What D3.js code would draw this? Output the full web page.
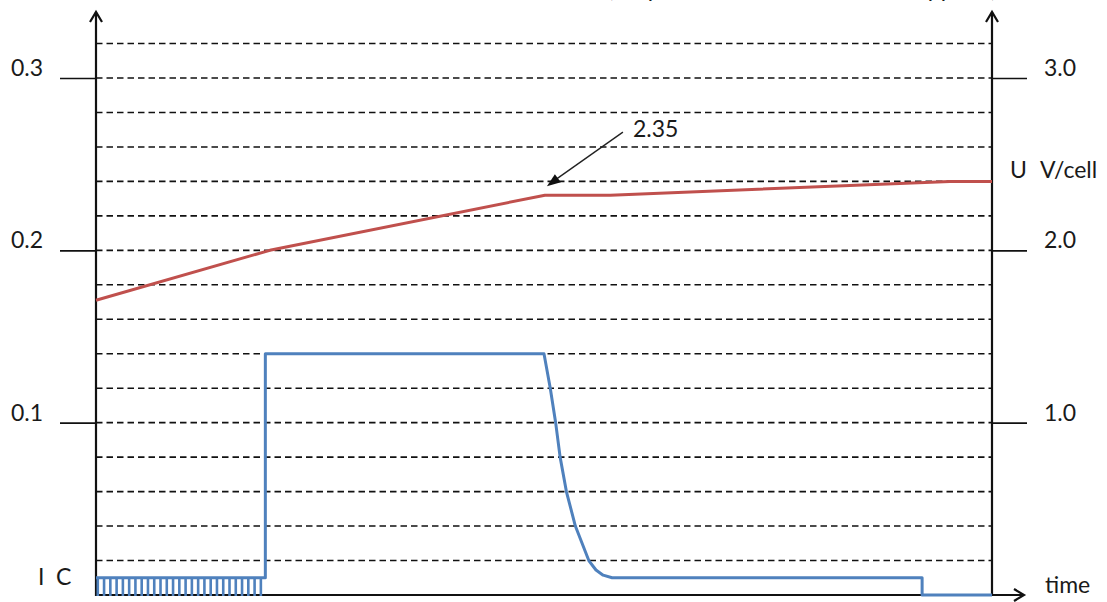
<!DOCTYPE html>
<html>
<head>
<meta charset="utf-8">
<script src="https://cdn.jsdelivr.net/npm/d3@7"></script>
<style>
  body { margin: 0; background: #fff; }
  svg text { font-family: Lato, 'Open Sans', sans-serif; fill: #1a1a1a; }
</style>
</head>
<body>
<div id="chart"></div>
<script>
// voltage curve (right axis, V/cell)
const voltageTime = [0, 19.4, 50.1, 57.4, 95.3, 100];
const voltage = [1.71, 2.0, 2.32, 2.32, 2.40, 2.40];

// current curve (left axis, C)
const currentTime = [0, 18.9, 18.9, 50.0, 50.7, 51.3, 51.8, 52.5, 53.5, 55.0, 55.8, 56.6, 57.6, 92.2, 92.2, 100];
const current = [0.01, 0.01, 0.14, 0.14, 0.12, 0.10, 0.08, 0.06, 0.04, 0.02, 0.0145, 0.0115, 0.01, 0.01, 0, 0];

// the short pulses before the main charge step
const pulseTime = [0.2, 0.9, 1.6, 2.3, 3.0, 3.7, 4.4, 5.1, 5.8, 6.5, 7.2, 7.9, 8.6, 9.3,
  10.0, 10.7, 11.4, 12.1, 12.8, 13.5, 14.2, 14.9, 15.6, 16.3, 17.0, 17.7, 18.4];

const gridVoltage = [0.2, 0.4, 0.6, 0.8, 1.0, 1.2, 1.4, 1.6, 1.8, 2.0, 2.2, 2.4, 2.6, 2.8, 3.0, 3.2];
const leftTicks = [0.1, 0.2, 0.3];
const rightTicks = [1.0, 2.0, 3.0];
const markerValue = 2.35;

const width = 1107;
const height = 602;
const x0 = 96, x1 = 992, yBase = 595, yTop = 12;
const fontSize = '23px';

const svg = d3.select('#chart').append('svg')
  .attr('width', width)
  .attr('height', height);

const x = d3.scaleLinear().domain([0, 100]).range([x0, x1]);
const yV = d3.scaleLinear().domain([0, 3]).range([yBase, 78]);
const yI = d3.scaleLinear().domain([0, 0.3]).range([yBase, 78]);

// heading, cut off by the top edge as in the original
svg.append('text')
  .attr('x', 997)
  .attr('y', -3)
  .attr('text-anchor', 'end')
  .style('font-size', fontSize)
  .text('(simplified illustration \u2013 values approx.)');

// dashed grid
svg.append('g')
  .selectAll('line')
  .data(gridVoltage)
  .join('line')
  .attr('x1', x0)
  .attr('x2', x1)
  .attr('y1', d => yV(d))
  .attr('y2', d => yV(d))
  .attr('stroke', '#111')
  .attr('stroke-width', 1.6)
  .attr('stroke-dasharray', '6.5,4');

// left axis ticks
const leftAxis = svg.append('g')
  .attr('transform', `translate(${x0},0)`)
  .call(d3.axisLeft(yI).tickValues(leftTicks).tickSize(36).tickPadding(17).tickFormat(d3.format('.1f')));
leftAxis.select('.domain').remove();
leftAxis.selectAll('line').attr('stroke', '#111').attr('stroke-width', 1.6);
leftAxis.selectAll('text')
  .attr('y', -10)
  .style('font-size', fontSize)
  .style('font-family', 'Lato, sans-serif')
  .attr('fill', '#1a1a1a');

// right axis ticks
const rightAxis = svg.append('g')
  .attr('transform', `translate(${x1},0)`)
  .call(d3.axisRight(yV).tickValues(rightTicks).tickSize(35).tickPadding(17).tickFormat(d3.format('.1f')));
rightAxis.select('.domain').remove();
rightAxis.selectAll('line').attr('stroke', '#111').attr('stroke-width', 1.6);
rightAxis.selectAll('text')
  .attr('y', -10)
  .style('font-size', fontSize)
  .style('font-family', 'Lato, sans-serif')
  .attr('fill', '#1a1a1a');

// main axis lines with open arrow heads
const axes = svg.append('g')
  .attr('stroke', '#111')
  .attr('stroke-width', 2.2)
  .attr('fill', 'none');
axes.append('line').attr('x1', x0).attr('x2', x0).attr('y1', yBase + 1).attr('y2', yTop);
axes.append('line').attr('x1', x1).attr('x2', x1).attr('y1', yBase + 1).attr('y2', yTop);
axes.append('line').attr('x1', x0 - 1).attr('x2', 1024).attr('y1', yBase).attr('y2', yBase);
axes.append('path').attr('d', `M${x0 - 6},${yTop + 10}L${x0},${yTop}L${x0 + 6},${yTop + 10}`);
axes.append('path').attr('d', `M${x1 - 6},${yTop + 10}L${x1},${yTop}L${x1 + 6},${yTop + 10}`);
axes.append('path').attr('d', `M1014,${yBase - 6}L1024,${yBase}L1014,${yBase + 6}`);

// current pulses
svg.append('g')
  .selectAll('line')
  .data(pulseTime)
  .join('line')
  .attr('x1', d => x(d))
  .attr('x2', d => x(d))
  .attr('y1', yI(current[0]))
  .attr('y2', yBase + 1)
  .attr('stroke', '#4F81BD')
  .attr('stroke-width', 2.6);

// current line
const currentLine = d3.line()
  .x(d => x(d[0]))
  .y(d => yI(d[1]));
svg.append('path')
  .datum(d3.zip(currentTime, current))
  .attr('d', currentLine)
  .attr('fill', 'none')
  .attr('stroke', '#4F81BD')
  .attr('stroke-width', 3)
  .attr('stroke-linejoin', 'round');

// voltage line
const voltageLine = d3.line()
  .x(d => x(d[0]))
  .y(d => yV(d[1]));
svg.append('path')
  .datum(d3.zip(voltageTime, voltage))
  .attr('d', voltageLine)
  .attr('fill', 'none')
  .attr('stroke', '#C0504D')
  .attr('stroke-width', 3)
  .attr('stroke-linejoin', 'round');

// 2.35 annotation
const tipX = x(voltageTime[2]) + 2;
const tipY = yV(voltage[2]) - 9;
svg.append('line')
  .attr('x1', tipX + 76)
  .attr('y1', tipY - 54)
  .attr('x2', tipX + 8)
  .attr('y2', tipY - 6)
  .attr('stroke', '#222')
  .attr('stroke-width', 1.4);
svg.append('path')
  .attr('d', `M${tipX},${tipY}L${tipX + 14},${tipY - 4}L${tipX + 8},${tipY - 12}Z`)
  .attr('fill', '#111');
svg.append('text')
  .attr('x', 633)
  .attr('y', 137)
  .style('font-size', fontSize)
  .text(d3.format('.2f')(markerValue));

// axis names
const uLabel = svg.append('text').attr('y', 178).style('font-size', fontSize);
uLabel.append('tspan').attr('x', 1010).text('U');
uLabel.append('tspan').attr('x', 1040).text('V/cell');

const iLabel = svg.append('text').attr('y', 585).style('font-size', fontSize);
iLabel.append('tspan').attr('x', 38).text('I');
iLabel.append('tspan').attr('x', 56).text('C');

svg.append('text').attr('x', 1045).attr('y', 593).style('font-size', fontSize)
  .text('time');
</script>
</body>
</html>
